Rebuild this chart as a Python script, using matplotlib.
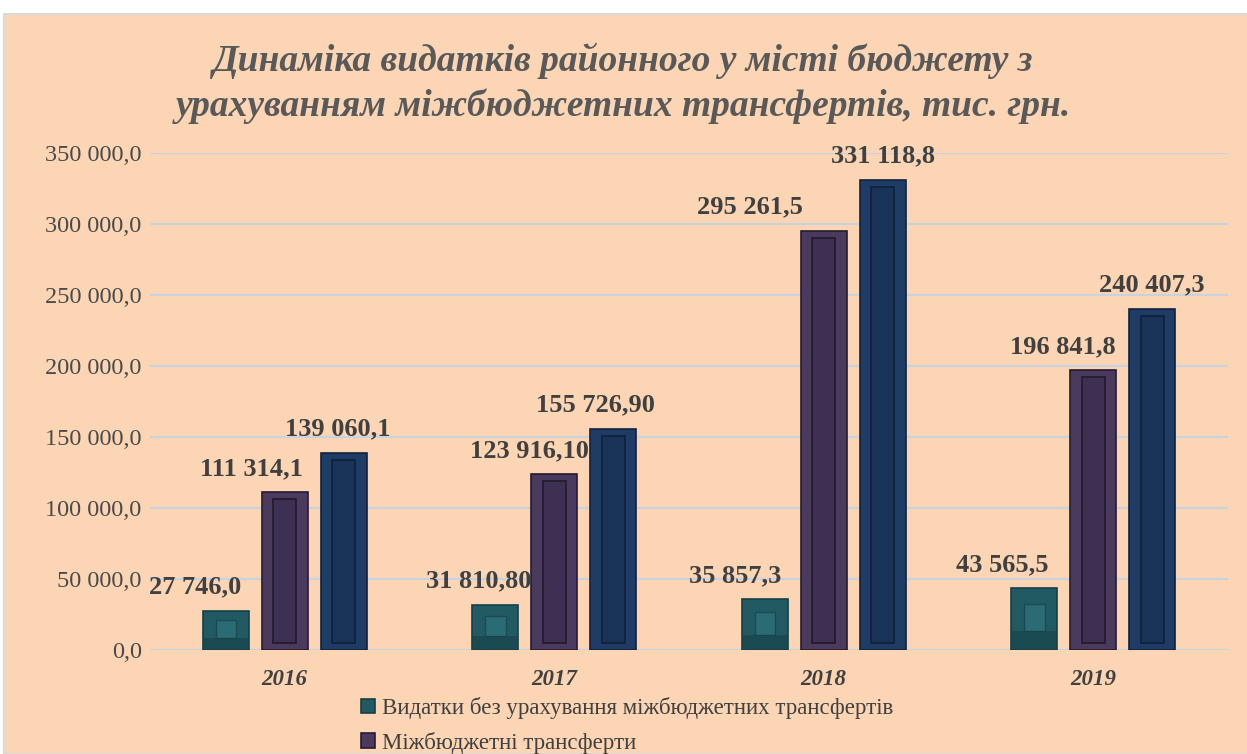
import numpy as np
import matplotlib
matplotlib.use("Agg")
import matplotlib.pyplot as plt
from matplotlib.patches import Rectangle
from matplotlib.ticker import FuncFormatter

# ============================================================
# DATOS
# ============================================================

anios = ["2016", "2017", "2018", "2019"]

series = [
    "Видатки без урахування міжбюджетних трансфертів",
    "Міжбюджетні трансферти",
    "Видатки з урахуванням міжбюджетних трансфертів",
]

sin_transferencias = [27746.0, 31810.80, 35857.3, 43565.5]
transferencias = [111314.1, 123916.10, 295261.5, 196841.8]
con_transferencias = [139060.1, 155726.90, 331118.8, 240407.3]

# decimales usados en las etiquetas de cada año
decimales = [1, 2, 1, 1]

valores = [sin_transferencias, transferencias, con_transferencias]

# ============================================================
# ESTILO
# ============================================================

fondo = "#fcd5b5"
colores = ["#215a63", "#4a3b5e", "#1f3c66"]
bordes = ["#163f45", "#241b30", "#10223d"]
interior = ["#2b6b74", "#3e3052", "#1a3358"]

# desplazamiento horizontal de cada etiqueta (px)
dx_etiquetas = [
    [-31, -17, -30, -32],
    [-33, -25, -74, -30],
    [-6, -18, 0, 0],
]

gris = "#404040"
serif = "Liberation Serif"


def fmt_num(v, d):
    s = f"{v:,.{d}f}"
    return s.replace(",", " ").replace(".", ",")


# ============================================================
# FIGURA
# ============================================================

W, H = 1247, 754
fig = plt.figure(figsize=(W / 100, H / 100), dpi=100)
fig.patch.set_facecolor("white")

panel = Rectangle((4 / W, 0), 1, (H - 14) / H, transform=fig.transFigure,
                  facecolor=fondo, edgecolor="#d9d9d9", linewidth=1.5, zorder=-5)
fig.patches.append(panel)

ax = fig.add_axes([150 / W, 104 / H, (1228 - 150) / W, (650 - 153) / H])
ax.set_facecolor("none")
ax.set_zorder(2)

x = np.arange(len(anios))
ancho = 0.17
sep = 0.2185
px_por_dato = 497 / 350000

for i, vals in enumerate(valores):
    vals = np.array(vals)
    pos = x + (i - 1) * sep
    bars = ax.bar(pos, vals, width=ancho, color=colores[i],
                  edgecolor=bordes[i], linewidth=1.2, zorder=3, label=series[i])
    # efecto bisel
    margen = 7 / px_por_dato
    if i == 0:
        ax.bar(pos, vals * 0.45, width=ancho * 0.45, bottom=vals * 0.3,
               color=interior[i], edgecolor="#1a4a52", linewidth=1, zorder=4)
        ax.bar(pos, vals * 0.3, width=ancho * 0.96, bottom=0,
               color="#173f45", linewidth=0, zorder=4, alpha=0.55)
    else:
        ax.bar(pos, vals - 2 * margen, width=ancho * 0.5, bottom=margen,
               color=interior[i], edgecolor=bordes[i], linewidth=1.3, zorder=4)
    for j, b in enumerate(bars):
        ax.annotate(fmt_num(vals[j], decimales[j]),
                    (b.get_x() + b.get_width() / 2, vals[j]),
                    xytext=(dx_etiquetas[i][j] * 0.72, 17),
                    textcoords="offset points", ha="center", va="center",
                    fontsize=19, fontweight="bold", family=serif,
                    color=gris, zorder=5)

ax.set_xlim(-0.5, 3.5)
ax.set_ylim(0, 350000)
ax.set_yticks(np.arange(0, 350001, 50000))
ax.yaxis.set_major_formatter(FuncFormatter(lambda v, p: fmt_num(v, 1)))
ax.set_xticks(x)
ax.set_xticklabels(anios)

for s in ax.spines.values():
    s.set_visible(False)
ax.tick_params(axis="both", length=0)
ax.tick_params(axis="y", pad=6)
ax.tick_params(axis="x", pad=14)
for t in ax.get_yticklabels():
    t.set_fontfamily(serif)
    t.set_fontsize(17.5)
    t.set_color("#4a4a4a")
for t in ax.get_xticklabels():
    t.set_fontfamily(serif)
    t.set_fontsize(16.5)
    t.set_fontweight("bold")
    t.set_fontstyle("italic")
    t.set_color(gris)

ax.grid(axis="y", color="#c9d3de", linewidth=1.6, zorder=1)
ax.set_axisbelow(True)

fig.text(0.5, (H - 61) / H,
         "Динаміка видатків районного у місті бюджету з",
         ha="center", va="center", fontsize=27, fontweight="bold",
         fontstyle="italic", family=serif, color="#595959")
fig.text(0.5, (H - 106) / H,
         "урахуванням міжбюджетних трансфертів, тис. грн.",
         ha="center", va="center", fontsize=27, fontweight="bold",
         fontstyle="italic", family=serif, color="#595959")

handles, labels = ax.get_legend_handles_labels()
leg = fig.legend(handles[:2], labels[:2], loc="upper left",
                 bbox_to_anchor=(352 / W, (H - 688) / H), frameon=False,
                 prop={"family": serif, "size": 16.5}, labelspacing=0.55,
                 handlelength=0.6, handleheight=0.6, handletextpad=0.3,
                 borderaxespad=0)
for t in leg.get_texts():
    t.set_color(gris)

fig.savefig("out.png", dpi=100, facecolor=fig.get_facecolor())
